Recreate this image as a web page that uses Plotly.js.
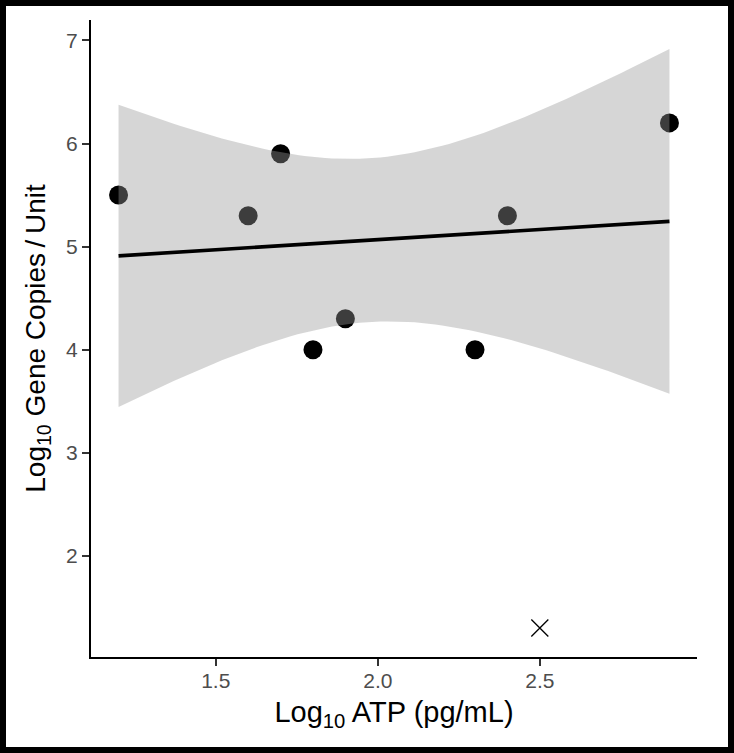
<!DOCTYPE html>
<html>
<head>
<meta charset="utf-8">
<script src="https://cdn.plot.ly/plotly-3.0.1.min.js"></script>
<style>
  html, body { margin: 0; padding: 0; background: #fff; }
  #wrap { position: relative; width: 734px; height: 753px; }
  #chart { position: absolute; left: 0; top: 0; width: 734px; height: 753px; }
  #frame { position: absolute; left: 0; top: 0; width: 734px; height: 753px;
           box-sizing: border-box; border: 6px solid #000; pointer-events: none; }
</style>
</head>
<body>
<div id="wrap">
  <div id="chart"></div>
  <div id="frame"></div>
</div>
<script>
// Data
const atpLog = [1.2, 1.6, 1.7, 1.8, 1.9, 2.3, 2.4, 2.9];
const geneLog = [5.5, 5.3, 5.9, 4.0, 4.3, 4.0, 5.3, 6.2];
const excludedX = [2.5];
const excludedY = [1.3];
const xTicks = [1.5, 2.0, 2.5];
const xTickLabels = ['1.5', '2.0', '2.5'];
const yTicks = [2, 3, 4, 5, 6, 7];
const yTickLabels = ['2', '3', '4', '5', '6', '7'];

// Linear fit with 95% confidence band (as geom_smooth(method = "lm"))
const n = atpLog.length;
const mx = atpLog.reduce((a, b) => a + b, 0) / n;
const my = geneLog.reduce((a, b) => a + b, 0) / n;
let sxx = 0, sxy = 0;
for (let i = 0; i < n; i++) {
  sxx += (atpLog[i] - mx) ** 2;
  sxy += (atpLog[i] - mx) * (geneLog[i] - my);
}
const slope = sxy / sxx;
const icpt = my - slope * mx;
let ssr = 0;
for (let i = 0; i < n; i++) ssr += (geneLog[i] - (icpt + slope * atpLog[i])) ** 2;
const s = Math.sqrt(ssr / (n - 2));
const tCrit = 2.446912; // t(0.975, df = 6)
const xmin = Math.min(...atpLog), xmax = Math.max(...atpLog);
const fx = [], fy = [], up = [], lo = [];
const steps = 80;
for (let k = 0; k <= steps; k++) {
  const x = xmin + (xmax - xmin) * k / steps;
  const yhat = icpt + slope * x;
  const se = s * Math.sqrt(1 / n + (x - mx) ** 2 / sxx);
  fx.push(x); fy.push(yhat);
  up.push(yhat + tCrit * se); lo.push(yhat - tCrit * se);
}
const bandX = fx.concat(fx.slice().reverse());
const bandY = up.concat(lo.slice().reverse());

// ranges with ggplot-like 5% expansion
const yAll = geneLog.concat(excludedY, up, lo);
const ylo = Math.min(...yAll), yhi = Math.max(...yAll);
const xAll = atpLog.concat(excludedX);
const xlo = Math.min(...xAll), xhi = Math.max(...xAll);
const xr = [xlo - 0.05 * (xhi - xlo), xhi + 0.05 * (xhi - xlo)];
const yr = [ylo - 0.05 * (yhi - ylo), yhi + 0.05 * (yhi - ylo)];

const traces = [
  { type: 'scatter', mode: 'markers', x: atpLog, y: geneLog,
    marker: { color: '#000', size: 19, line: { width: 0 } }, hoverinfo: 'skip' },
  { type: 'scatter', mode: 'markers', x: excludedX, y: excludedY,
    marker: { symbol: 'x-thin', color: '#000', size: 17, line: { color: '#000', width: 1.3 } }, hoverinfo: 'skip' },
  { type: 'scatter', mode: 'lines', x: bandX, y: bandY, fill: 'toself',
    fillcolor: 'rgba(153,153,153,0.4)', line: { width: 0 }, hoverinfo: 'skip' },
  { type: 'scatter', mode: 'lines', x: fx, y: fy,
    line: { color: '#000', width: 3.6 }, hoverinfo: 'skip' }
];

const layout = {
  width: 734, height: 753,
  margin: { l: 91, r: 37, t: 20, b: 96 },
  paper_bgcolor: '#fff', plot_bgcolor: '#fff',
  showlegend: false,
  font: { family: 'Liberation Sans, Arial, sans-serif' },
  xaxis: {
    range: xr, tickvals: xTicks, ticktext: xTickLabels,
    showgrid: false, zeroline: false,
    showline: true, linecolor: '#000', linewidth: 2,
    ticks: 'outside', ticklen: 7, tickwidth: 2, tickcolor: '#333',
    ticklabelstandoff: -3,
    tickfont: { size: 21, color: '#4d4d4d' },
    title: { text: 'Log<sub>10</sub> ATP (pg/mL)', font: { size: 29, color: '#000' }, standoff: 10 }
  },
  yaxis: {
    range: yr, tickvals: yTicks, ticktext: yTickLabels,
    showgrid: false, zeroline: false,
    showline: true, linecolor: '#000', linewidth: 2,
    ticks: 'outside', ticklen: 7, tickwidth: 2, tickcolor: '#333',
    tickfont: { size: 21, color: '#4d4d4d' },
    title: { text: 'Log<sub>10</sub> Gene Copies\u2009/\u2009Unit', font: { size: 28, color: '#000' }, standoff: 12 }
  }
};

Plotly.newPlot('chart', traces, layout, { staticPlot: true, displayModeBar: false });
</script>
</body>
</html>
